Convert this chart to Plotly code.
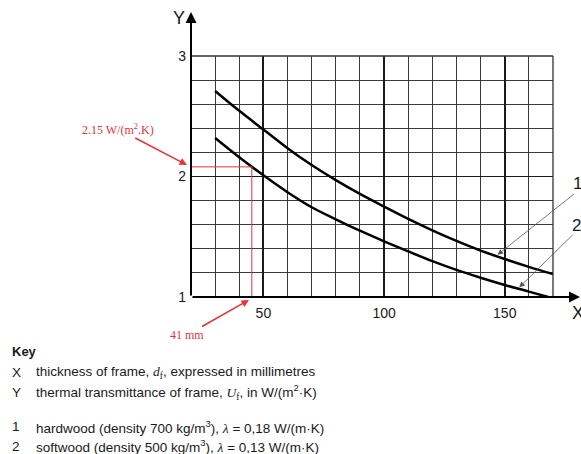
import plotly.graph_objects as go

# ---- data ----
hard_x = [30, 40, 50, 60, 70, 80, 90, 100, 110, 120, 130, 140, 150, 160, 170]
hard_y = [2.71, 2.545, 2.39, 2.235, 2.095, 1.97, 1.855, 1.75, 1.648, 1.553, 1.465, 1.385, 1.315, 1.25, 1.19]
soft_x = [30, 40, 50, 60, 70, 80, 90, 100, 110, 120, 130, 140, 150, 160, 168]
soft_y = [2.32, 2.16, 2.01, 1.87, 1.745, 1.645, 1.55, 1.462, 1.378, 1.298, 1.225, 1.16, 1.10, 1.045, 1.0]

x_range = [20, 170]
y_range = [1, 3]
x_tick_labels = ["50", "100", "150"]
y_tick_labels = ["1", "2", "3"]

ref_label_y = "2.15 W/(m<sup>2</sup>.K)"
ref_label_x = "41 mm"
ref_drawn_x = 45.2   # where the red guide is drawn in the picture
ref_drawn_y = 2.08

key_title = "Key"
key_rows = [
    ("X", "thickness of frame, <span style='font-family:Liberation Serif'><i>d</i><sub>f</sub></span>, expressed in millimetres"),
    ("Y", "thermal transmittance of frame, <span style='font-family:Liberation Serif'><i>U</i><sub>f</sub></span>, in W/(m<sup>2</sup>·K)"),
    ("1", "hardwood (density 700 kg/m<sup>3</sup>), <span style='font-family:Liberation Serif'><i>λ</i></span> = 0,18 W/(m·K)"),
    ("2", "softwood (density 500 kg/m<sup>3</sup>), <span style='font-family:Liberation Serif'><i>λ</i></span> = 0,13 W/(m·K)"),
]

W, H = 581, 454
L, R, T, B = 191, 28, 56, 157
PW, PH = W - L - R, H - T - B


def px(p):
    """window pixel x -> paper x"""
    return (p - L) / PW


def py(p):
    """window pixel y -> paper y"""
    return (H - B - p) / PH


SANS = "Liberation Sans, Arial, sans-serif"
SERIF = "Liberation Serif, Times New Roman, serif"
RED = "#e8323c"
INK = "#1a1a1a"

fig = go.Figure()
fig.add_trace(go.Scatter(x=hard_x, y=hard_y, mode="lines", line=dict(color="black", width=2.5, shape="spline"),
                         showlegend=False, hoverinfo="skip"))
fig.add_trace(go.Scatter(x=soft_x, y=soft_y, mode="lines", line=dict(color="black", width=2.5, shape="spline"),
                         showlegend=False, hoverinfo="skip"))

# top and right frame lines of the grid
fig.add_shape(type="line", xref="paper", yref="paper", x0=0, x1=1, y0=1, y1=1, line=dict(color="#333", width=1.3))
fig.add_shape(type="line", xref="paper", yref="paper", x0=1, x1=1, y0=0, y1=1, line=dict(color="#333", width=1.3))

# red guide lines
fig.add_shape(type="line", xref="x", yref="y", x0=x_range[0], x1=ref_drawn_x, y0=ref_drawn_y, y1=ref_drawn_y,
              line=dict(color=RED, width=1))
fig.add_shape(type="line", xref="x", yref="y", x0=ref_drawn_x, x1=ref_drawn_x, y0=y_range[0], y1=ref_drawn_y,
              line=dict(color=RED, width=1))


def label(xp, yp, text, size, font=SANS, color=INK, xanchor="center"):
    return dict(xref="paper", yref="paper", x=px(xp), y=py(yp), text=text, showarrow=False,
                xanchor=xanchor, yanchor="middle", font=dict(family=font, size=size, color=color))


ann = []
# axis arrows
ann.append(dict(xref="paper", yref="paper", x=0, y=py(12), ax=0, ay=285, text="", showarrow=True,
                arrowhead=2, arrowsize=1.1, arrowwidth=2, arrowcolor="black"))
ann.append(dict(xref="paper", yref="paper", x=px(580), y=0, ax=-(580 - L), ay=0, text="", showarrow=True,
                arrowhead=2, arrowsize=1.1, arrowwidth=2, arrowcolor="black"))
ann.append(label(179, 18, "Y", 18))
ann.append(label(578, 313, "X", 18))

# curve labels with leader lines
ann.append(dict(xref="x", yref="y", x=147, y=1.35, ax=78, ay=-62, text="", showarrow=True,
                arrowhead=2, arrowsize=1.4, arrowwidth=0.8, arrowcolor="#555"))
ann.append(dict(xref="x", yref="y", x=156, y=1.08, ax=55, ay=-54, text="", showarrow=True,
                arrowhead=2, arrowsize=1.4, arrowwidth=0.8, arrowcolor="#555"))
ann.append(label(577, 183, "1", 17))
ann.append(label(576, 226, "2", 17))

# red annotations
ann.append(dict(xref="paper", yref="paper", x=px(187), y=py(165), ax=-69, ay=-36, text=ref_label_y,
                showarrow=True, arrowhead=2, arrowsize=1, arrowwidth=1.5, arrowcolor=RED,
                font=dict(family=SERIF, size=12, color=RED)))
ann.append(dict(xref="paper", yref="paper", x=px(249), y=py(300), ax=-62, ay=35, text=ref_label_x,
                showarrow=True, arrowhead=2, arrowsize=1, arrowwidth=1.5, arrowcolor=RED,
                font=dict(family=SERIF, size=12, color=RED)))

# key
ann.append(label(10, 351, "<b>" + key_title + "</b>", 13, xanchor="left"))
row_y = [372, 392, 427, 446]
for (sym, txt), yy in zip(key_rows, row_y):
    ann.append(label(10, yy, sym, 13.5, xanchor="left"))
    ann.append(label(34, yy, txt, 13.5, xanchor="left"))

fig.update_layout(
    width=W, height=H, margin=dict(l=L, r=R, t=T, b=B, autoexpand=False),
    paper_bgcolor="white", plot_bgcolor="white",
    annotations=ann,
    xaxis=dict(range=x_range, tickmode="array", tickvals=[int(v) for v in x_tick_labels], ticktext=x_tick_labels,
               showgrid=True, gridcolor="#1a1a1a", gridwidth=1.5, zeroline=False, showline=False,
               ticks="", ticklabelstandoff=6, tickfont=dict(family=SANS, size=14, color=INK),
               minor=dict(dtick=10, tick0=0, showgrid=True, gridcolor="#3a3a3a", gridwidth=1.1)),
    yaxis=dict(range=y_range, tickmode="array", tickvals=[int(v) for v in y_tick_labels], ticktext=y_tick_labels,
               showgrid=True, gridcolor="#1a1a1a", gridwidth=1.3, zeroline=False, showline=False,
               ticks="", ticklabelstandoff=4, tickfont=dict(family=SANS, size=14, color=INK),
               minor=dict(dtick=0.2, tick0=0, showgrid=True, gridcolor="#3a3a3a", gridwidth=1.1)),
)

# remove the default page margin so the figure fills the 581x454 window exactly
fig.write_html("out.html", config={"displayModeBar": False},
               post_script="document.body.style.margin='0';document.body.style.overflow='hidden';")
